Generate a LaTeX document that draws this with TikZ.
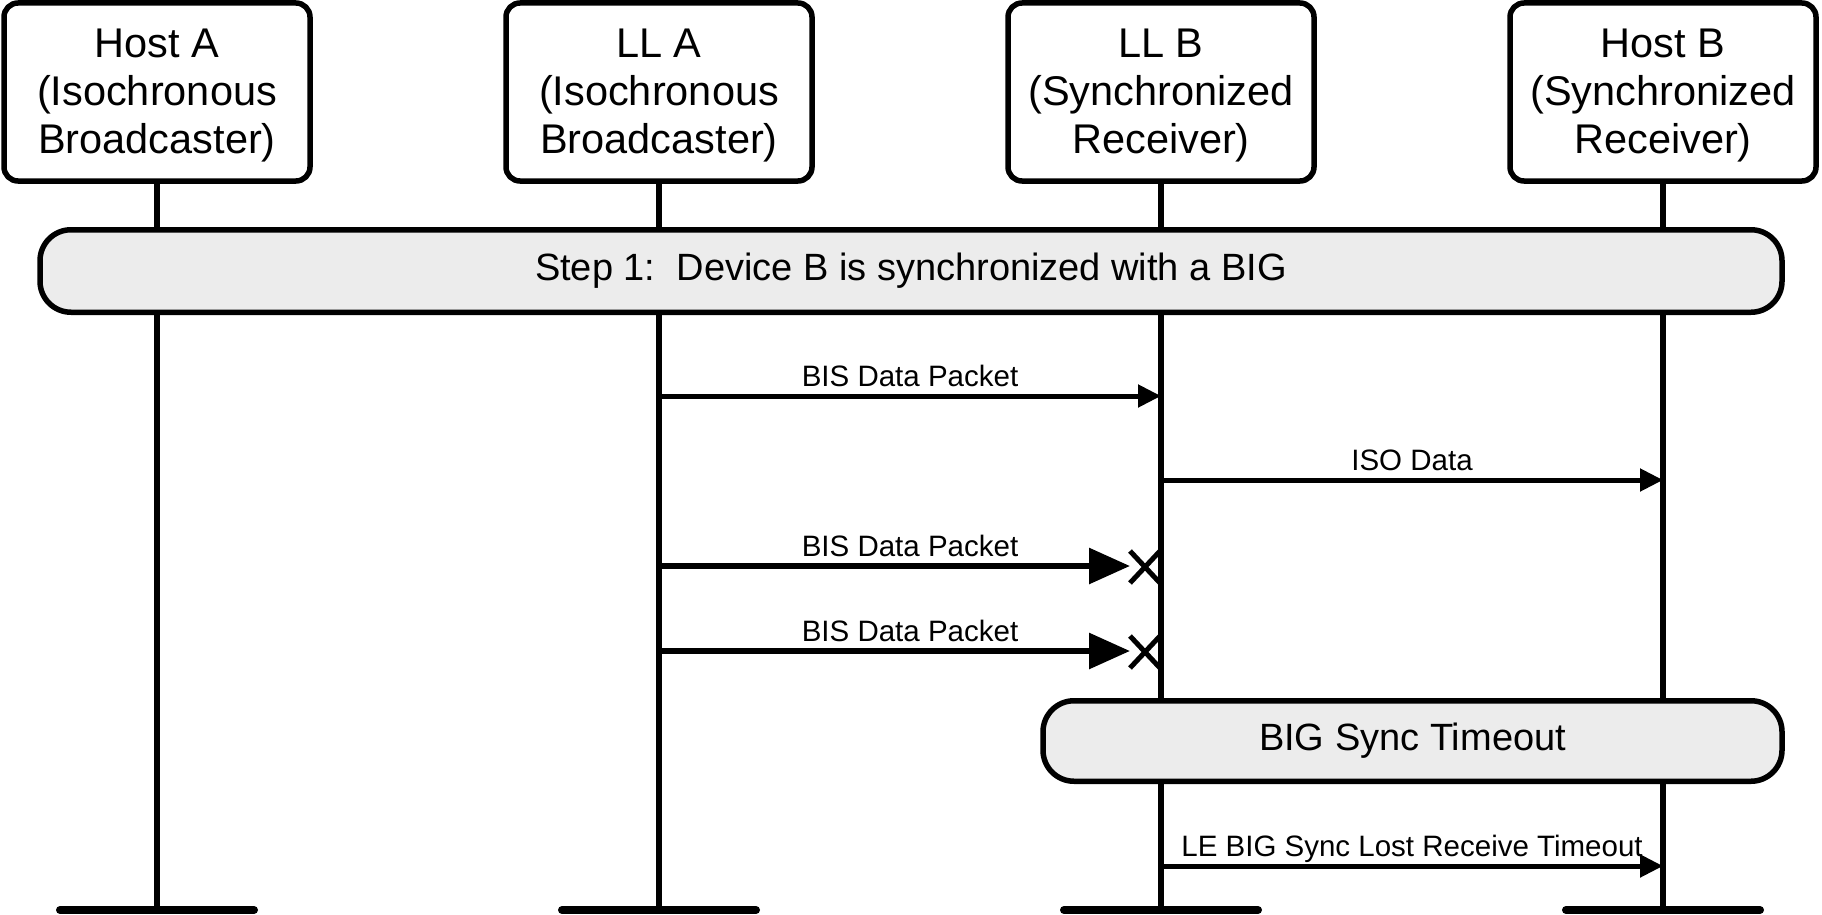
\documentclass[tikz,border=0pt]{standalone}
\usepackage{fontspec}
\setmainfont{Liberation Sans}
\usetikzlibrary{arrows.meta}
\definecolor{barfill}{RGB}{236,236,236}
\begin{document}
\begin{tikzpicture}[x=1pt,y=-1pt,
  actor/.style={draw,line width=5.5pt,fill=white,rounded corners=14pt,minimum width=306pt,minimum height=178pt,align=center,font=\fontsize{41.5}{48}\selectfont,inner sep=0pt},
  life/.style={line width=5.5pt},
  phase/.style={draw,line width=5.5pt,fill=barfill,rounded corners=31pt,inner sep=0pt,font=\fontsize{38}{44}\selectfont},
  msg/.style={line width=5pt,-{Triangle[length=23pt,width=22pt]}},
  lost/.style={line width=6pt,-{Triangle[length=41pt,width=35pt]}},
  lbl/.style={font=\fontsize{29.5}{34}\selectfont,anchor=base,inner sep=0pt,yshift=10pt},
  endbar/.style={line width=8pt,line cap=round},
  xmark/.style={line width=5pt}]
\useasboundingbox (0,0) rectangle (1822,915);

% lifeline ends
\coordinate (hAe) at (157,910);
\coordinate (lAe) at (659,910);
\coordinate (lBe) at (1161,910);
\coordinate (hBe) at (1663,910);

% actors
\node[actor] (hA) at (157,92) {\rule{0pt}{36pt}Host A\\(Isochronous\\Broadcaster)};
\node[actor] (lA) at (659,92) {\rule{0pt}{36pt}LL A\\(Isochronous\\Broadcaster)};
\node[actor] (lB) at (1161,92) {\rule{0pt}{36pt}LL B\\(Synchronized\\Receiver)};
\node[actor] (hB) at (1663,92) {\rule{0pt}{36pt}Host B\\(Synchronized\\Receiver)};

% lifelines
\draw[life] (hA.south) -- (hAe);
\draw[life] (lA.south) -- (lAe);
\draw[life] (lB.south) -- (lBe);
\draw[life] (hB.south) -- (hBe);

% end bars
\draw[endbar] ([xshift=-97pt]hAe) -- ([xshift=97pt]hAe);
\draw[endbar] ([xshift=-97pt]lAe) -- ([xshift=97pt]lAe);
\draw[endbar] ([xshift=-97pt]lBe) -- ([xshift=97pt]lBe);
\draw[endbar] ([xshift=-97pt]hBe) -- ([xshift=97pt]hBe);

% phases
\node[phase,minimum width=1742pt,minimum height=82.5pt] (step) at (911,271) {Step 1:\ \ Device B is synchronized with a BIG};
\node[phase,minimum width=739pt,minimum height=80.5pt] (tmo) at (1412.5,741) {BIG Sync Timeout};

% message 1
\coordinate (m1a) at (659,396);
\coordinate (m1b) at (1161,396);
\draw[msg] (m1a) -- node[lbl]{BIS Data Packet} (m1b);

% message 2
\coordinate (m2a) at (1161,480);
\coordinate (m2b) at (1663,480);
\draw[msg] (m2a) -- node[lbl]{ISO Data} (m2b);

% message 3 (lost)
\coordinate (m3a) at (659,566);
\coordinate (m3b) at (1161,566);
\coordinate (m3t) at (1130,566);
\coordinate (x3) at (1145,567);
\draw[lost] (m3a) -- (m3t);
\path (m3a) -- node[lbl]{BIS Data Packet} (m3b);
\draw[xmark] ([shift={(-15,-16)}]x3) -- ([shift={(15,16)}]x3)
             ([shift={(-15,16)}]x3) -- ([shift={(15,-16)}]x3);

% message 4 (lost)
\coordinate (m4a) at (659,651);
\coordinate (m4b) at (1161,651);
\coordinate (m4t) at (1130,651);
\coordinate (x4) at (1145,652);
\draw[lost] (m4a) -- (m4t);
\path (m4a) -- node[lbl]{BIS Data Packet} (m4b);
\draw[xmark] ([shift={(-15,-16)}]x4) -- ([shift={(15,16)}]x4)
             ([shift={(-15,16)}]x4) -- ([shift={(15,-16)}]x4);

% message 5
\coordinate (m5a) at (1161,866);
\coordinate (m5b) at (1663,866);
\draw[msg] (m5a) -- node[lbl]{LE BIG Sync Lost Receive Timeout} (m5b);
\end{tikzpicture}
\end{document}
